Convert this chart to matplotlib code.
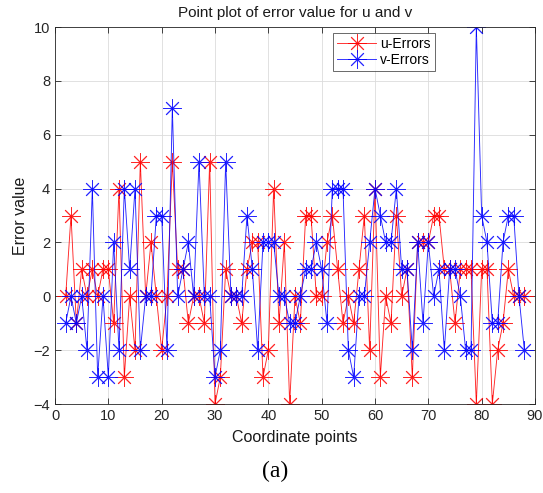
import matplotlib
matplotlib.use("Agg")
import matplotlib.pyplot as plt
import numpy as np

x_points = list(range(2, 89))

u_errors = [0, 3, -1, 1, 0, 1, 0, 1, 1, -1, 4, -3, 0, -2, 5, 0, 2, 0, -2, 0,
            5, 1, 1, -1, 0, 0, -1, 5, -4, -3, 1, 0, 0, -1, 1, 2, 2, -3, -2, 4,
            -1, 2, -4, 0, -1, 3, 3, 0, 0, 2, 3, 1, -1, 0, -1, 1, 3, -2, 4, -3,
            0, -1, 3, 0, 1, -3, 2, 2, 2, 3, 3, 1, 1, -1, 1, 1, 1, -4, 1, 1,
            -4, -2, -1, 1, 0, 0, 0]

v_errors = [-1, 0, -1, 0, -2, 4, -3, 0, -3, 2, -2, 4, 1, 4, -2, 0, 0, 3, 3, -2,
            7, 0, 1, 2, 0, 5, 0, 0, -3, -2, 5, 0, 0, 0, 3, 1, -2, 2, 2, 2,
            0, 0, -1, -1, 0, 1, 1, 2, 1, -1, 4, 4, 4, -2, -3, 0, 0, 2, 4, 3,
            2, 2, 4, 1, 1, -2, 2, -1, 2, 0, 1, -2, 1, 1, 0, -2, -2, 10, 3, 2,
            -1, -1, 2, 3, 3, 0, -2]

title = "Point plot of error value for u and v"
x_label = "Coordinate points"
y_label = "Error value"
series_names = ["u-Errors", "v-Errors"]
x_ticks = list(range(0, 91, 10))
y_ticks = list(range(-4, 11, 2))

plt.rcParams['font.family'] = ['Liberation Sans', 'DejaVu Sans']

W, H = 543, 493
fig = plt.figure(figsize=(W / 100, H / 100), dpi=100)
ax = fig.add_axes([55 / W, (H - 404) / H, 480 / W, 377 / H])

star = (8, 2, 0)
ax.plot(x_points, u_errors, color='red', linewidth=0.65, marker=star,
        markersize=13, markeredgewidth=0.65, label=series_names[0], alpha=0.85)
ax.plot(x_points, v_errors, color='blue', linewidth=0.65, marker=star,
        markersize=13, markeredgewidth=0.65, label=series_names[1], alpha=0.85)

ax.set_xlim(0, 90)
ax.set_ylim(-4, 10)
ax.set_xticks(x_ticks)
ax.set_yticks(y_ticks)
ax.grid(True, color='#dcdcdc', linewidth=0.6)
ax.set_axisbelow(True)
ax.tick_params(direction='in', top=True, right=True, labelsize=10.5,
               colors='#262626', length=4, width=0.6)
for s in ax.spines.values():
    s.set_color('#262626')
    s.set_linewidth(0.6)

ax.set_title(title, fontsize=11, pad=7, color='#1a1a1a')
ax.set_xlabel(x_label, fontsize=11.5, labelpad=5, color='#1a1a1a')
ax.set_ylabel(y_label, fontsize=11.5, labelpad=4, color='#1a1a1a')

leg = ax.legend(loc='upper left', bbox_to_anchor=(278 / 480, 0.985),
                fontsize=10, frameon=True, fancybox=False, handlelength=2.8,
                borderpad=0.3, labelspacing=0.15, handletextpad=0.3,
                borderaxespad=0.0)
leg.get_frame().set_edgecolor('#262626')
leg.get_frame().set_linewidth(0.6)
for h in leg.legend_handles:
    h.set_markersize(13)

fig.text(275 / W, 1 - 471 / H, "(a)", fontsize=17, ha='center', va='center',
         family=['Liberation Serif', 'DejaVu Serif'])

fig.savefig("out.png", dpi=100)
